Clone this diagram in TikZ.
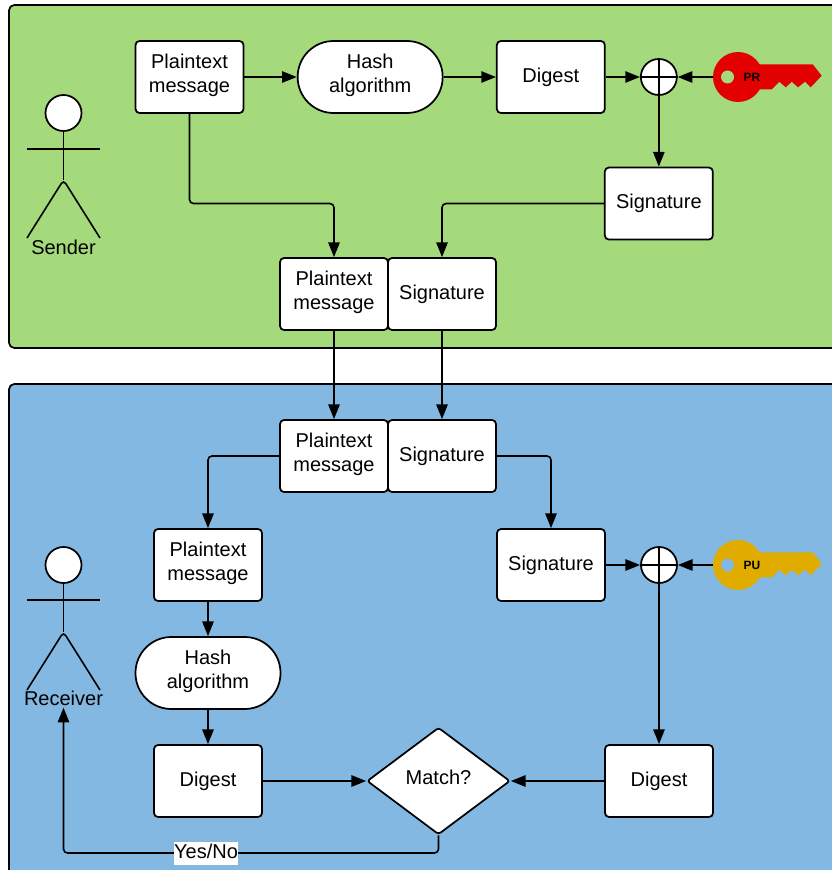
\documentclass[tikz,border=0pt]{standalone}
\usepackage{fontspec}
\setmainfont{Liberation Sans}
\usepackage{tikz}
\usetikzlibrary{calc,positioning,arrows.meta,shapes.geometric}
\definecolor{sendergreen}{HTML}{A5DA7C}
\definecolor{receiverblue}{HTML}{82B8E2}
\definecolor{keyred}{HTML}{E30000}
\definecolor{keygold}{HTML}{E0AC00}
\tikzstyle{base} = [draw=black,line width=1.3pt,fill=white,text centered,inner sep=0pt,align=center,font=\fontsize{15}{18}\selectfont]
\tikzstyle{msgbox} = [base,rectangle,rounded corners=3pt,minimum width=81pt,minimum height=54pt]
\tikzstyle{hashbox} = [base,rectangle,rounded corners=26.9pt,minimum width=108.75pt,minimum height=54pt]
\tikzstyle{xorop} = [base,circle,minimum size=27pt]
\tikzstyle{decision} = [base,diamond,aspect=1.336,rounded corners=2pt,minimum width=107.25pt,minimum height=80.25pt]
\tikzstyle{panel} = [draw=black,line width=1.3pt,rounded corners=4pt]
\tikzstyle{line} = [line width=1.2pt,rounded corners=3pt]
\tikzstyle{arrow} = [line,-{Triangle[length=11pt,width=8.5pt]}]
\tikzstyle{actorlabel} = [inner xsep=0pt,inner ysep=1.5pt,font=\fontsize{15}{18}\selectfont]
\tikzstyle{keyhead} = [circle,inner sep=0pt,minimum size=37.5pt]
\newcommand{\lift}{\rule[-6pt]{0pt}{0pt}}
% key blade and hole: #1 head node, #2 colour, #3 panel colour, #4 text
\newcommand{\keyblade}[4]{%
  \fill[#2,shift={(#1.center)}] (20,-12.7) -- (74.7,-12.7) -- (83.7,-1.3) -- (72.7,10.3) -- (67,4.7) -- (60,10.3) -- (53.7,4.7) -- (47.7,10.3) -- (41.3,4.7) -- (33.7,12.3) -- (20,12.3) -- cycle;
  \fill[#3,shift={(#1.center)}] (-10.5,0) circle (6.5);
  \node (#1text) [right=4pt of #1.center,inner sep=0pt,font=\fontsize{9}{9}\selectfont\bfseries] {#4};
}

\begin{document}
\begin{tikzpicture}[x=0.75pt,y=-0.75pt,node distance=81pt]
\useasboundingbox (0,0) rectangle (831,870);
\draw [panel,fill=sendergreen] (9,5) rectangle (850,348);
\draw [panel,fill=receiverblue] (9,384) rectangle (850,890);

% sender
\node (plainA) [msgbox] at (189.5,77) {Plaintext\\message\lift};
\node (hashA) [hashbox,right of=plainA,xshift=54.5pt] {Hash\\algorithm\lift};
\node (digestA) [msgbox,right of=hashA,xshift=54.5pt] {Digest};
\node (xorA) [xorop,right of=digestA] {};
\node (sigA) [msgbox,below of=xorA,yshift=-13.9pt] {Signature};
\node (keyA) [keyhead,fill=keyred] at (738,77) {};
\keyblade{keyA}{keyred}{sendergreen}{PR}
\node (plainB) [msgbox] at (334,294) {Plaintext\\message\lift};
\node (sigB) [msgbox,right of=plainB] {Signature};
\coordinate (bendA) at (plainB |- sigA);

\node (headA) [base,circle,minimum size=27pt] at (63.5,113) {};
\coordinate (hipA) at (63.5,180);
\node (sender) [actorlabel] at (63.5,247) {Sender};
\draw [line] (headA.south) -- (hipA);
\draw [line] (27,149) -- (100,149);
\draw [line] (27,238) -- (hipA) -- (100,238);

\draw [arrow] (plainA) -- (hashA);
\draw [arrow] (hashA) -- (digestA);
\draw [arrow] (digestA) -- (xorA);
\draw [arrow] (keyA) -- (xorA);
\draw [arrow] (xorA) -- (sigA);
\draw [line] (xorA.north) -- (xorA.south);
\draw [line] (xorA.west) -- (xorA.east);
\draw [arrow] (plainA) |- (bendA) -- (plainB);
\draw [arrow] (sigA) -| (sigB);

% receiver
\node (plainC) [msgbox,below of=plainB,yshift=-40.5pt] {Plaintext\\message\lift};
\node (sigC) [msgbox,right of=plainC] {Signature};
\node (plainD) [msgbox] at (208,565) {Plaintext\\message\lift};
\node (hashD) [hashbox,below of=plainD] {Hash\\algorithm\lift};
\node (digestD) [msgbox,below of=hashD] {Digest};
\node (sigD) [msgbox] at (551,565) {Signature};
\node (xorD) [xorop,right of=sigD] {};
\node (keyD) [keyhead,fill=keygold] at (738,565) {};
\keyblade{keyD}{keygold}{receiverblue}{PU}
\node (digestE) [msgbox] at (659,781) {Digest};
\node (match) [decision] at (438.5,781) {Match?\lift};

\node (headD) [base,circle,minimum size=27pt] at (63.5,565) {};
\coordinate (hipD) at (63.5,632);
\node (receiver) [actorlabel] at (63.5,698) {Receiver};
\draw [line] (headD.south) -- (hipD);
\draw [line] (27,600) -- (100,600);
\draw [line] (27,690) -- (hipD) -- (100,690);

\draw [arrow] (plainB) -- (plainC);
\draw [arrow] (sigB) -- (sigC);
\draw [arrow] (plainC) -| (plainD);
\draw [arrow] (sigC) -| (sigD);
\draw [arrow] (plainD) -- (hashD);
\draw [arrow] (hashD) -- (digestD);
\draw [arrow] (sigD) -- (xorD);
\draw [arrow] (keyD) -- (xorD);
\draw [arrow] (xorD) -- (digestE);
\draw [line] (xorD.north) -- (xorD.south);
\draw [line] (xorD.west) -- (xorD.east);
\draw [arrow] (digestD) -- (match);
\draw [arrow] (digestE) -- (match);
\coordinate (bendD) at (receiver |- 0,853);
\draw [arrow] (match.south) |- (bendD) -- (receiver.south);
\node (yesno) [fill=white,inner sep=0pt,text height=12pt,text depth=5.2pt,font=\fontsize{15}{18}\selectfont] at (206,853.5) {Yes/No};
\end{tikzpicture}
\end{document}
